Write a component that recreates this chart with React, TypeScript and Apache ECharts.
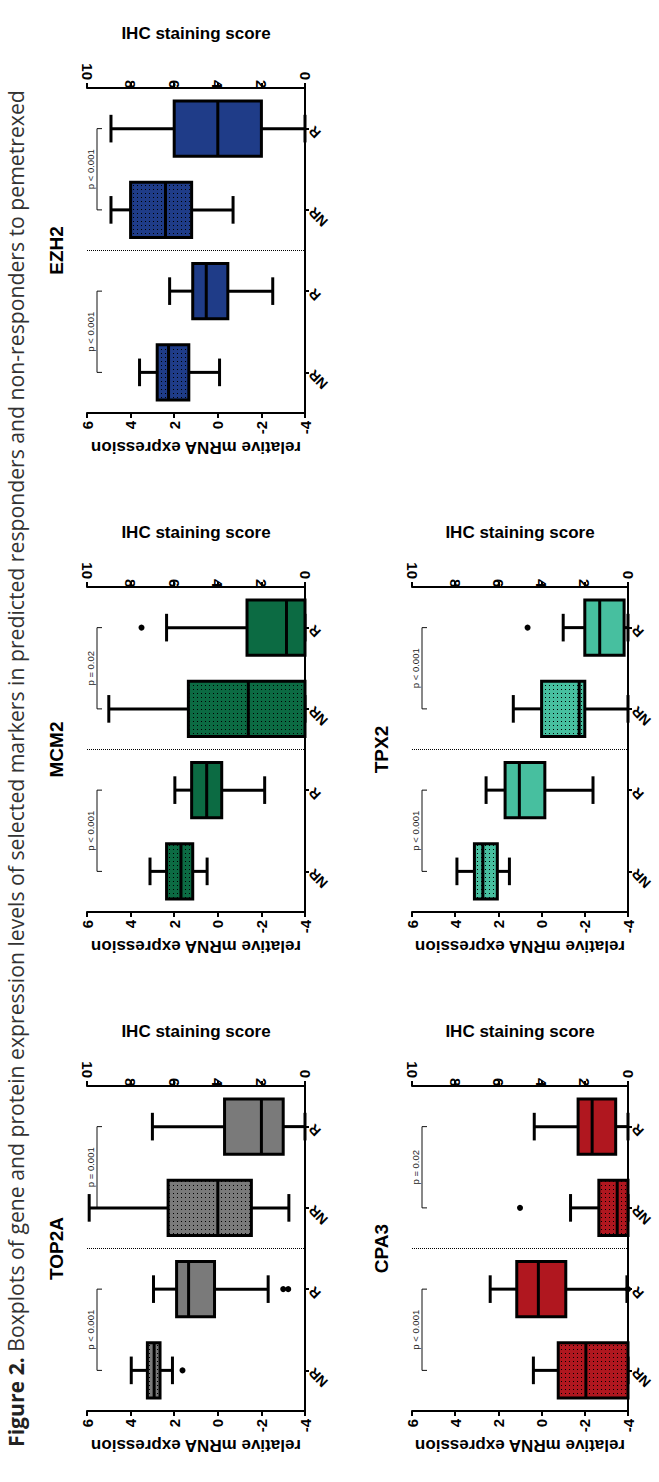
import { useEffect, useRef } from 'react';
import * as echarts from 'echarts';

// ---- data ----
const groupLabels = ['NR', 'R', 'NR', 'R'];
const mrnaTicks = [-4, -2, 0, 2, 4, 6];
const ihcTicks = [0, 2, 4, 6, 8, 10];

const markerNames = ['EZH2', 'MCM2', 'TOP2A', 'TPX2', 'CPA3'];
const markerColors = ['#1f3c88', '#0c6b43', '#7a7a7a', '#47bf9f', '#b0171f'];

// five-number summaries [min, Q1, median, Q3, max]; NR first, then R
const ezh2Mrna = [[-0.08, 1.33, 2.26, 2.78, 3.59], [-2.52, -0.46, 0.53, 1.15, 2.21]];
const ezh2Ihc = [[3.3, 5.2, 6.4, 8.0, 8.9], [0, 2.0, 4.0, 6.0, 8.9]];
const mcm2Mrna = [[0.49, 1.15, 1.69, 2.35, 3.11], [-2.15, -0.18, 0.51, 1.2, 1.97]];
const mcm2Ihc = [[0, 0, 2.6, 5.35, 9.0], [0, 0, 0.85, 2.66, 6.35]];
const top2aMrna = [[2.08, 2.65, 2.92, 3.23, 3.97], [-2.31, 0.15, 1.34, 1.89, 2.95]];
const top2aIhc = [[0.74, 2.46, 4.0, 6.28, 9.9], [0, 1.0, 2.0, 3.69, 7.0]];
const tpx2Mrna = [[1.49, 2.05, 2.72, 3.11, 3.92], [-2.38, -0.15, 1.03, 1.69, 2.57]];
const tpx2Ihc = [[0, 2.0, 2.26, 4.0, 5.31], [0, 0.18, 1.31, 2.0, 3.0]];
const cpa3Mrna = [[-4, -4, -2.05, -0.77, 0.38], [-3.95, -1.12, 0.15, 1.15, 2.38]];
const cpa3Ihc = [[0, 0, 0.5, 1.35, 2.66], [0, 0.57, 1.66, 2.31, 4.34]];

// outliers as [value, group index]
const ezh2MrnaOut: number[][] = [];
const ezh2IhcOut: number[][] = [];
const mcm2MrnaOut: number[][] = [];
const mcm2IhcOut = [[7.5, 3]];
const top2aMrnaOut = [[1.62, 0], [-3.0, 1], [-3.23, 1]];
const top2aIhcOut: number[][] = [];
const tpx2MrnaOut: number[][] = [];
const tpx2IhcOut = [[4.65, 3]];
const cpa3MrnaOut = [[-4, 1]];
const cpa3IhcOut = [[5.0, 2]];

const pLabels = [
  ['p < 0.001', 'p < 0.001'],
  ['p < 0.001', 'p = 0.02'],
  ['p < 0.001', 'p = 0.001'],
  ['p < 0.001', 'p < 0.001'],
  ['p < 0.001', 'p = 0.02'],
];

const mrnaStats = [ezh2Mrna, mcm2Mrna, top2aMrna, tpx2Mrna, cpa3Mrna];
const ihcStats = [ezh2Ihc, mcm2Ihc, top2aIhc, tpx2Ihc, cpa3Ihc];
const mrnaOutliers = [ezh2MrnaOut, mcm2MrnaOut, top2aMrnaOut, tpx2MrnaOut, cpa3MrnaOut];
const ihcOutliers = [ezh2IhcOut, mcm2IhcOut, top2aIhcOut, tpx2IhcOut, cpa3IhcOut];

const captionBold = 'Figure 2.';
const captionText =
  'Boxplots of gene and protein expression levels of selected markers in predicted responders and non-responders to pemetrexed';

// ---- layout ----
const COL_X = [87, 412];
const COL_W = [218, 216];
const ROW_Y = [88, 587, 1086];
const ROW_H = 325;
const PANEL_CELL = [[0, 0], [0, 1], [0, 2], [1, 1], [1, 2]];
const FONT = 'Liberation Sans';
const CAPTION_FONT = 'Open Sans';

const dotFillCache: Record<string, any> = {};
function dotFill(color: string) {
  if (!dotFillCache[color]) {
    const svg =
      `<svg xmlns="http://www.w3.org/2000/svg" width="4" height="4" shape-rendering="crispEdges">` +
      `<rect width="4" height="4" fill="${color}"/>` +
      `<rect x="1" y="1" width="1" height="1" fill="#000"/></svg>`;
    dotFillCache[color] = {
      image: 'data:image/svg+xml;charset=utf-8,' + encodeURIComponent(svg),
      repeat: 'repeat',
      imageWidth: 4,
      imageHeight: 4,
    };
  }
  return dotFillCache[color];
}

function boxSeries(panel: number, xAxisIndex: number, stats: number[][], offset: number, color: string) {
  return {
    type: 'custom',
    xAxisIndex,
    yAxisIndex: panel,
    data: stats.map((s, k) => [k + offset, ...s]),
    encode: { x: [1, 2, 3, 4, 5], y: 0 },
    z: 3,
    renderItem: (params: any, api: any) => {
      const cat = api.value(0);
      const lo = api.value(1);
      const q1 = api.value(2);
      const med = api.value(3);
      const q3 = api.value(4);
      const hi = api.value(5);
      const band = api.size([0, 1])[1];
      const halfBox = band * 0.34;
      const halfCap = band * 0.17;
      const yc = api.coord([med, cat])[1];
      const x = (v: number) => api.coord([v, cat])[0];
      const ln = { stroke: '#000', lineWidth: 3 };
      const dotted = groupLabels[cat] === 'NR';
      return {
        type: 'group',
        children: [
          { type: 'line', shape: { x1: x(hi), y1: yc, x2: x(q3), y2: yc }, style: ln },
          { type: 'line', shape: { x1: x(q1), y1: yc, x2: x(lo), y2: yc }, style: ln },
          { type: 'line', shape: { x1: x(hi), y1: yc - halfCap, x2: x(hi), y2: yc + halfCap }, style: ln },
          { type: 'line', shape: { x1: x(lo), y1: yc - halfCap, x2: x(lo), y2: yc + halfCap }, style: ln },
          {
            type: 'rect',
            shape: {
              x: Math.min(x(q1), x(q3)),
              y: yc - halfBox,
              width: Math.abs(x(q1) - x(q3)),
              height: halfBox * 2,
            },
            style: { fill: dotted ? dotFill(color) : color, stroke: '#000', lineWidth: 3 },
          },
          { type: 'line', shape: { x1: x(med), y1: yc - halfBox, x2: x(med), y2: yc + halfBox }, style: ln },
        ],
      };
    },
  };
}

function buildOption() {
  const grid: any[] = [];
  const xAxis: any[] = [];
  const yAxis: any[] = [];
  const series: any[] = [];
  const graphic: any[] = [];

  const axisLine = { show: true, onZero: false, lineStyle: { color: '#000', width: 2 } };
  const tick = { show: true, length: 5, lineStyle: { color: '#000', width: 2 } };
  const tickLabel = { fontFamily: FONT, fontWeight: 'bold', fontSize: 15, color: '#000', rotate: 90, margin: 8 };
  const nameStyle = { fontFamily: FONT, fontWeight: 'bold', fontSize: 17, color: '#000' };

  markerNames.forEach((name, i) => {
    const [col, row] = PANEL_CELL[i];
    const left = COL_X[col];
    const width = COL_W[col];
    const top = ROW_Y[row];
    const height = ROW_H;
    const color = markerColors[i];
    grid.push({ left, top, width, height });

    xAxis.push({
      gridIndex: i,
      type: 'value',
      position: 'bottom',
      inverse: true,
      min: mrnaTicks[0],
      max: mrnaTicks[mrnaTicks.length - 1],
      interval: mrnaTicks[1] - mrnaTicks[0],
      axisLine,
      axisTick: tick,
      axisLabel: {
        ...tickLabel,
        align: 'right',
        alignMinLabel: 'right',
        alignMaxLabel: 'right',
        verticalAlign: 'middle',
      },
      splitLine: { show: false },
      name: 'relative mRNA expression',
      nameLocation: 'middle',
      nameGap: 26,
      nameRotate: 180,
      nameTextStyle: nameStyle,
    });
    xAxis.push({
      gridIndex: i,
      type: 'value',
      position: 'top',
      inverse: true,
      min: ihcTicks[0],
      max: ihcTicks[ihcTicks.length - 1],
      interval: ihcTicks[1] - ihcTicks[0],
      axisLine,
      axisTick: tick,
      axisLabel: {
        ...tickLabel,
        align: 'left',
        alignMinLabel: 'right',
        alignMaxLabel: 'right',
        verticalAlign: 'middle',
      },
      splitLine: { show: false },
      name: 'IHC staining score',
      nameLocation: 'middle',
      nameGap: 46,
      nameTextStyle: nameStyle,
    });
    yAxis.push({
      gridIndex: i,
      type: 'category',
      position: 'right',
      data: groupLabels,
      axisLine,
      axisTick: { show: true, alignWithLabel: true, length: 4, lineStyle: { color: '#000', width: 2 } },
      axisLabel: {
        fontFamily: FONT,
        fontWeight: 'bold',
        fontSize: 14,
        color: '#000',
        rotate: 135,
        margin: 6,
        align: 'right',
        verticalAlign: 'middle',
      },
      splitLine: { show: false },
    });

    // group separator
    series.push({
      type: 'custom',
      xAxisIndex: 2 * i,
      yAxisIndex: i,
      data: [[1, 2]],
      z: 1,
      renderItem: (params: any, api: any) => {
        const ya = api.coord([0, api.value(0)])[1];
        const yb = api.coord([0, api.value(1)])[1];
        const y = (ya + yb) / 2;
        const x1 = api.coord([mrnaTicks[mrnaTicks.length - 1], 0])[0];
        const x2 = api.coord([mrnaTicks[0], 0])[0];
        return {
          type: 'line',
          shape: { x1, y1: y, x2, y2: y },
          style: { stroke: '#000', lineWidth: 1, lineDash: [1, 1] },
        };
      },
    });

    // significance brackets
    series.push({
      type: 'custom',
      xAxisIndex: 2 * i,
      yAxisIndex: i,
      data: [[0, 1], [2, 3]],
      z: 2,
      renderItem: (params: any, api: any) => {
        const ya = api.coord([0, api.value(0)])[1];
        const yb = api.coord([0, api.value(1)])[1];
        const edge = api.coord([mrnaTicks[mrnaTicks.length - 1], 0])[0];
        const xb = edge + 10;
        const st = { stroke: '#111', lineWidth: 1 };
        return {
          type: 'group',
          children: [
            { type: 'line', shape: { x1: xb, y1: ya, x2: xb, y2: yb }, style: st },
            { type: 'line', shape: { x1: xb, y1: ya, x2: xb + 5, y2: ya }, style: st },
            { type: 'line', shape: { x1: xb, y1: yb, x2: xb + 5, y2: yb }, style: st },
            {
              type: 'text',
              x: edge + 3,
              y: (ya + yb) / 2,
              rotation: Math.PI / 2,
              style: {
                text: pLabels[i][params.dataIndex],
                fontFamily: FONT,
                fontSize: 9.5,
                fill: '#222',
                align: 'center',
                verticalAlign: 'middle',
              },
            },
          ],
        };
      },
    });

    series.push(boxSeries(i, 2 * i, mrnaStats[i], 0, color));
    series.push(boxSeries(i, 2 * i + 1, ihcStats[i], 2, color));

    series.push({
      type: 'scatter',
      xAxisIndex: 2 * i,
      yAxisIndex: i,
      data: mrnaOutliers[i],
      symbolSize: 6,
      itemStyle: { color: '#000', opacity: 1 },
      z: 4,
    });
    series.push({
      type: 'scatter',
      xAxisIndex: 2 * i + 1,
      yAxisIndex: i,
      data: ihcOutliers[i],
      symbolSize: 6,
      itemStyle: { color: '#000', opacity: 1 },
      z: 4,
    });

    graphic.push({
      type: 'text',
      x: left - 31,
      y: top + height / 2,
      rotation: Math.PI / 2,
      style: {
        text: name,
        fontFamily: FONT,
        fontWeight: 'bold',
        fontSize: 19,
        fill: '#000',
        align: 'center',
        verticalAlign: 'middle',
        textAlign: 'center',
        textVerticalAlign: 'middle',
      },
    });
  });

  graphic.push({
    type: 'text',
    x: 15,
    y: 1447,
    rotation: Math.PI / 2,
    style: {
      text: `{b|${captionBold}} ${captionText}`,
      rich: { b: { fontFamily: CAPTION_FONT, fontWeight: 'bold', fontSize: 21.2, fill: '#222' } },
      fontFamily: CAPTION_FONT,
      fontSize: 21.2,
      fill: '#333',
      align: 'left',
      verticalAlign: 'middle',
      textAlign: 'left',
      textVerticalAlign: 'middle',
    },
  });

  return {
    animation: false,
    backgroundColor: '#fff',
    grid,
    xAxis,
    yAxis,
    series,
    graphic: { elements: graphic },
  };
}

export default function App() {
  const ref = useRef<HTMLDivElement>(null);
  useEffect(() => {
    if (!ref.current) return;
    const chart = echarts.init(ref.current, null, { renderer: 'svg' });
    chart.setOption(buildOption() as any);
    return () => chart.dispose();
  }, []);
  return (
    <div
      ref={ref}
      style={{ position: 'fixed', left: 0, top: 0, width: 659, height: 1482, background: '#fff' }}
    />
  );
}
